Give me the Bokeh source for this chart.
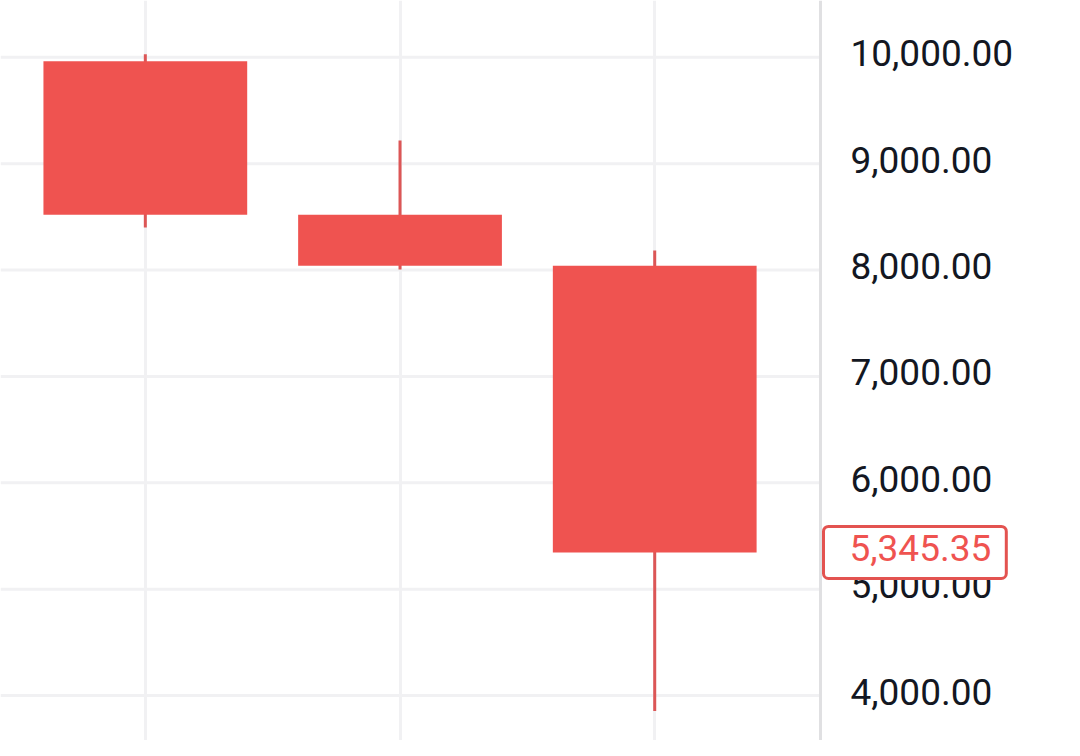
from bokeh.plotting import figure
from bokeh.models import ColumnDataSource, Range1d, FixedTicker, Grid, Label, Span
from bokeh.core.properties import value
from bokeh.embed import file_html
from bokeh.resources import INLINE

# candle data
idx = [0, 1, 2]
opens = [9963, 8520, 8040]
closes = [8520, 8040, 5345.35]
highs = [10028, 9218, 8184]
lows = [8399, 8005, 3855]
last_price = 5345.35
price_ticks = [4000, 5000, 6000, 7000, 8000, 9000, 10000]
tick_labels = ["{:,.2f}".format(t) for t in price_ticks]

red = "#ef5350"

# layout in pixels -> data units along x
W, H = 1064, 740
px_per_bar = 254.7
x_left = -0.5686
x_right = x_left + W / px_per_bar
axis_x = x_left + 820 / px_per_bar      # price scale border
label_x = x_left + 850 / px_per_bar     # price labels start
tag_x = x_left + 823 / px_per_bar       # last price tag box

src = ColumnDataSource(dict(x=idx, open=opens, close=closes, high=highs, low=lows))

p = figure(width=W, height=H, output_backend="svg", toolbar_location=None,
           x_axis_location=None, y_axis_location=None,
           x_range=Range1d(x_left, x_right), y_range=Range1d(3577, 10534),
           min_border=0)
p.outline_line_color = None
p.background_fill_color = "white"
p.grid.visible = False

# grid lines
p.add_layout(Grid(dimension=0, ticker=FixedTicker(ticks=idx), grid_line_color="#f1f1f3", grid_line_width=3))
p.segment(x0=[x_left] * len(price_ticks), x1=[axis_x] * len(price_ticks), y0=price_ticks, y1=price_ticks,
          line_color="#f1f1f3", line_width=3)

# wicks then bodies
p.segment(x0="x", y0="low", x1="x", y1="high", source=src, line_color="#dc5656", line_width=3)
p.vbar(x="x", top="open", bottom="close", width=0.8, source=src, fill_color=red, line_color=None)

# price scale
p.add_layout(Span(location=axis_x, dimension="height", line_color="#e0e0e2", line_width=3))
p.text(x=[label_x] * len(price_ticks), y=price_ticks, text=tick_labels,
       text_font=value("Roboto"), text_font_size="37px", text_color="#131722",
       text_align="left", text_baseline="middle", y_offset=-4)

# last price tag
tag = Label(x=tag_x, y=last_price, text="{:,.2f}".format(last_price),
            text_font="Roboto", text_font_size="37px", text_color=red,
            text_align="left", text_baseline="middle",
            background_fill_color="white", border_line_color="#e35350", border_line_width=3,
            border_radius=5, padding=(26, 15, 9, 17))
p.add_layout(tag)

open("out.html", "w").write(file_html(p, INLINE))
